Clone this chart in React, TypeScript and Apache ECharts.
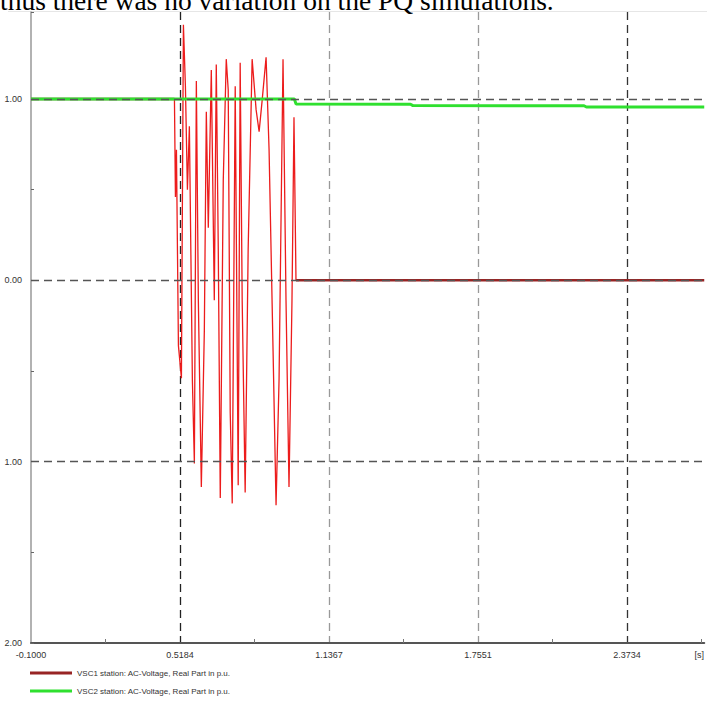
import React, { useEffect, useRef } from "react";
import * as echarts from "echarts";

const caption = "thus there was no variation on the PQ simulations.";
const vsc1Name = "VSC1 station: AC-Voltage, Real Part in p.u.";
const vsc2Name = "VSC2 station: AC-Voltage, Real Part in p.u.";

// time axis [s]
const xMin = -0.1;
const xMax = 2.694;
const xStep = 0.61836;
// y axis [p.u.]
const yMin = -2;
const yMax = 1.48;
const yStep = 0.5;
const yGridValues = [1, 0, -1];

// VSC1 steady parts (before fault / after blocking)
const vsc1Steady: (number | string)[][] = [
  [-0.1, 1.0],
  [0.4953, 1.0],
  [0.75, "-"],
  [0.9997, 0.0],
  [2.694, 0.0],
];

// VSC1 transient oscillation
const vsc1Transient: number[][] = [
  [0.4953, 1.0], [0.4994, 0.46], [0.5036, 0.72], [0.5118, -0.36], [0.5242, -0.54],
  [0.5325, 1.41], [0.5408, 1.07], [0.5491, 0.5], [0.5573, 0.85], [0.5697, -0.55],
  [0.578, -1.01], [0.5862, 1.1], [0.5945, -0.11], [0.6069, -1.14], [0.6193, -0.28],
  [0.6276, 0.93], [0.6358, 0.29], [0.6483, 1.16], [0.6607, -0.11], [0.6689, 1.19],
  [0.6772, 0.17], [0.6855, -1.2], [0.6979, 0.55], [0.7103, 1.22], [0.7185, 1.05],
  [0.7268, -0.73], [0.7351, -1.23], [0.7475, 1.07], [0.7599, -1.13], [0.7681, 1.2],
  [0.7764, -0.11], [0.7888, -1.17], [0.8012, 0.17], [0.8177, 1.22], [0.8343, 0.94],
  [0.8467, 0.82], [0.8591, 0.99], [0.8756, 1.23], [0.888, 0.72], [0.9046, -0.39],
  [0.917, -1.24], [0.9294, -0.55], [0.9459, 1.22], [0.9583, -0.11], [0.9707, -1.14],
  [0.9831, -0.11], [0.9914, 0.9], [0.9997, 0.0],
];

const vsc2: number[][] = [
  [-0.1, 1.0], [0.993, 1.0], [1.0, 0.972], [1.475, 0.971], [1.485, 0.964],
  [2.195, 0.963], [2.205, 0.956], [2.694, 0.956],
];

const narrow = '"Liberation Sans Narrow", "Liberation Sans", Arial, sans-serif';

export default function App() {
  const ref = useRef<HTMLDivElement>(null);
  useEffect(() => {
    const chart = echarts.init(ref.current!, null, { renderer: "svg" });
    chart.setOption({
      animation: false,
      backgroundColor: "transparent",
      grid: { left: 31, right: 0, top: 12, bottom: 59, containLabel: false },
      graphic: [
        {
          type: "line",
          shape: { x1: 8, y1: 11.5, x2: 707, y2: 11.5 },
          style: { stroke: "#e6e6e6", lineWidth: 1 },
          z: -1,
        },
      ],
      legend: {
        orient: "vertical",
        left: 30,
        top: 669,
        padding: 0,
        icon: "rect",
        itemWidth: 42,
        itemHeight: 3,
        itemGap: 10,
        selectedMode: false,
        data: [vsc1Name, vsc2Name],
        textStyle: { fontSize: 8, color: "#333", fontFamily: narrow },
      },
      xAxis: {
        type: "value",
        min: xMin,
        max: xMax,
        interval: xStep,
        axisLine: { show: true, onZero: false, lineStyle: { color: "#555", width: 2 } },
        axisTick: { show: false, inside: true },
        minorTick: { show: true, splitNumber: 2, length: 4, lineStyle: { color: "#777" } },
        axisLabel: {
          margin: 7,
          fontSize: 9,
          color: "#333",
          fontFamily: narrow,
          showMinLabel: true,
          showMaxLabel: true,
          formatter: (v: number) =>
            Math.abs(v - xMax) < 1e-6 ? "{s|[s]}" : v.toFixed(4),
          rich: { s: { fontSize: 9, color: "#333", fontFamily: narrow, padding: [0, 10, 0, 0] } },
        },
        splitLine: {
          show: true,
          showMinLine: false,
          showMaxLine: false,
          lineStyle: {
            type: [8, 5],
            width: 1.3,
            color: ["#222", "#999", "#999", "#333"],
          },
        },
      },
      yAxis: {
        type: "value",
        min: yMin,
        max: yMax,
        interval: yStep,
        axisLine: { show: true, onZero: false, lineStyle: { color: "#999", width: 1.5 } },
        axisTick: { show: true, inside: true, length: 3, lineStyle: { color: "#666" } },
        axisLabel: {
          margin: 9,
          fontSize: 9,
          color: "#333",
          fontFamily: narrow,
          formatter: (v: number) => (Number.isInteger(v) ? Math.abs(v).toFixed(2) : ""),
        },
        splitLine: { show: false },
      },
      series: [
        {
          name: vsc1Name,
          type: "line",
          data: vsc1Steady,
          symbol: "none",
          lineStyle: { color: "#982424", width: 2.5 },
          itemStyle: { color: "#982424" },
          markLine: {
            silent: true,
            symbol: ["none", "none"],
            label: { show: false },
            lineStyle: { type: [8, 5], color: "#555", width: 1.3 },
            data: yGridValues.map((v) => ({ yAxis: v })),
          },
        },
        {
          name: "VSC1 transient",
          type: "line",
          data: vsc1Transient,
          symbol: "none",
          lineStyle: { color: "#ec1c1c", width: 1.3 },
          itemStyle: { color: "#ec1c1c" },
        },
        {
          name: vsc2Name,
          type: "line",
          data: vsc2,
          symbol: "none",
          lineStyle: { color: "#2fe02f", width: 3 },
          itemStyle: { color: "#2fe02f" },
        },
      ],
    });
    return () => chart.dispose();
  }, []);
  return (
    <div
      style={{
        position: "fixed",
        left: 0,
        top: 0,
        width: 707,
        height: 702,
        background: "#fff",
        overflow: "hidden",
      }}
    >
      <div ref={ref} style={{ position: "absolute", left: 0, top: 0, width: 707, height: 702 }} />
      <div
        style={{
          position: "absolute",
          left: 0,
          top: -13.5,
          fontFamily: '"Liberation Serif", "Times New Roman", serif',
          fontSize: 27.5,
          lineHeight: "27.5px",
          whiteSpace: "nowrap",
          color: "#000",
        }}
      >
        {caption}
      </div>
    </div>
  );
}
